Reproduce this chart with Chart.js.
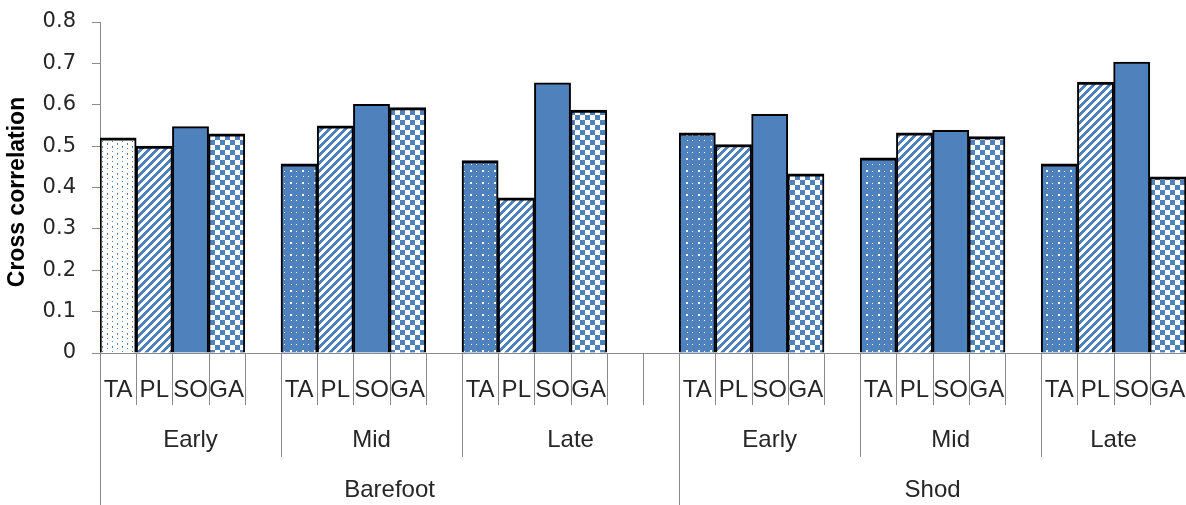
<!DOCTYPE html>
<html>
<head>
<meta charset="utf-8">
<script src="https://cdn.jsdelivr.net/npm/chart.js@4.4.1/dist/chart.umd.min.js"></script>
<style>
  html, body { margin: 0; padding: 0; background: #ffffff; }
  #wrap { width: 1186px; height: 505px; position: relative; }
</style>
</head>
<body>
<div id="wrap"><canvas id="chart" width="1186" height="505"></canvas></div>
<script>
// Muscles, phases and footwear conditions
const muscles = ['TA', 'PL', 'SO', 'GA'];
const phases = ['Early', 'Mid', 'Late'];
const conditions = ['Barefoot', 'Shod'];

// Cross-correlation per muscle, phase by phase (Early, Mid, Late)
const barefootEarly = [0.520, 0.500, 0.547, 0.530];
const barefootMid   = [0.457, 0.549, 0.601, 0.593];
const barefootLate  = [0.465, 0.375, 0.653, 0.587];
const shodEarly     = [0.532, 0.504, 0.577, 0.433];
const shodMid       = [0.472, 0.532, 0.538, 0.523];
const shodLate      = [0.457, 0.655, 0.703, 0.426];

// Empty category slots that follow each phase block
const barefootSpacers = [1, 1, 2];
const shodSpacers = [1, 1, 0];

// Y axis range and tick step
const yMin = 0, yMax = 0.8, yStep = 0.1;

const seriesByCondition = {
  Barefoot: [barefootEarly, barefootMid, barefootLate],
  Shod: [shodEarly, shodMid, shodLate]
};
const spacersByCondition = { Barefoot: barefootSpacers, Shod: shodSpacers };

// Flatten into category slots
const slots = [];
conditions.forEach(cond => {
  phases.forEach((ph, pi) => {
    muscles.forEach((m, mi) => {
      slots.push({ muscle: m, phase: ph, condition: cond, value: seriesByCondition[cond][pi][mi] });
    });
    for (let s = 0; s < spacersByCondition[cond][pi]; s++) {
      slots.push({ muscle: '', phase: ph, condition: cond, value: null });
    }
  });
});

const BLUE = '#4f81bd';

function makePattern(w, h, paint) {
  const c = document.createElement('canvas');
  c.width = w; c.height = h;
  const g = c.getContext('2d');
  paint(g, w, h);
  return g.createPattern(c, 'repeat');
}
const ctx = document.getElementById('chart').getContext('2d');

// light dotted fill: blue specks on white
const lightDots = makePattern(10, 10, (g, w, h) => {
  g.fillStyle = '#ffffff'; g.fillRect(0, 0, w, h);
  g.fillStyle = BLUE;
  g.fillRect(2, 1, 1, 1); g.fillRect(7, 3, 1, 2);
  g.fillRect(2, 6, 1, 2); g.fillRect(7, 8, 1, 1);
});
// dark dotted fill: white specks on blue
const darkDots = makePattern(12, 12, (g, w, h) => {
  g.fillStyle = BLUE; g.fillRect(0, 0, w, h);
  g.fillStyle = '#ffffff';
  g.fillRect(2, 2, 2, 2); g.fillRect(8, 8, 1, 1);
  g.fillRect(8, 3, 1, 1); g.fillRect(3, 8, 1, 1);
});
// wide upward diagonal stripes
const stripes = makePattern(8, 8, (g, w, h) => {
  g.fillStyle = '#ffffff'; g.fillRect(0, 0, w, h);
  g.fillStyle = BLUE;
  for (let y = 0; y < h; y++) for (let x = 0; x < w; x++) {
    if ((x + y) % 8 < 4) g.fillRect(x, y, 1, 1);
  }
});
// small checkerboard
const checker = makePattern(10, 10, (g, w, h) => {
  g.fillStyle = '#ffffff'; g.fillRect(0, 0, w, h);
  g.fillStyle = BLUE;
  g.fillRect(0, 0, 5, 5); g.fillRect(5, 5, 5, 5);
});

function fillFor(slot) {
  if (slot.muscle === 'TA') return (slot.condition === 'Barefoot' && slot.phase === 'Early') ? lightDots : darkDots;
  if (slot.muscle === 'PL') return stripes;
  if (slot.muscle === 'SO') return BLUE;
  return checker;
}
function borderFor(slot) {
  const top = slot.muscle === 'SO' ? 2 : 3;
  return { top: top, left: 2, right: 2, bottom: 0 };
}

const AXIS_GRAY = '#8a8a8a';
const TEXT = '#262626';
const AXIS_TOP = 22;
const AXIS_BOTTOM = 353;

// Three-level category axis and rotated value-axis title
const multiLevelAxis = {
  id: 'multiLevelAxis',
  afterDraw(chart) {
    const g = chart.ctx;
    const xs = chart.scales.x;
    const area = chart.chartArea;
    const n = slots.length;
    const w = (area.right - area.left) / n;
    const bx = k => Math.round(area.left + k * w) + 0.5;
    const H = chart.height;

    g.save();
    g.strokeStyle = AXIS_GRAY;
    g.lineWidth = 1;
    const vline = (x, y1, y2) => { g.beginPath(); g.moveTo(x, y1); g.lineTo(x, y2); g.stroke(); };

    // row 1: a cell for every slot
    for (let k = 0; k <= n; k++) vline(bx(k), AXIS_BOTTOM, 405);

    // spans for rows 2 and 3
    const phaseSpans = [], condSpans = [];
    slots.forEach((s, i) => {
      const pk = s.condition + '|' + s.phase;
      const lastP = phaseSpans[phaseSpans.length - 1];
      if (lastP && lastP.key === pk) lastP.end = i + 1; else phaseSpans.push({ key: pk, label: s.phase, start: i, end: i + 1 });
      const lastC = condSpans[condSpans.length - 1];
      if (lastC && lastC.key === s.condition) lastC.end = i + 1; else condSpans.push({ key: s.condition, label: s.condition, start: i, end: i + 1 });
    });
    phaseSpans.forEach(sp => { vline(bx(sp.start), AXIS_BOTTOM, 457); vline(bx(sp.end), AXIS_BOTTOM, 457); });
    condSpans.forEach(sp => { vline(bx(sp.start), AXIS_BOTTOM, H); vline(bx(sp.end), AXIS_BOTTOM, H); });

    g.fillStyle = TEXT;
    g.textAlign = 'center';
    g.textBaseline = 'middle';
    g.font = '24px "Liberation Sans", Arial, sans-serif';
    slots.forEach((s, i) => {
      if (s.muscle) g.fillText(s.muscle, xs.getPixelForValue(i), 390);
    });
    phaseSpans.forEach(sp => g.fillText(sp.label, area.left + (sp.start + sp.end) / 2 * w, 440));
    condSpans.forEach(sp => g.fillText(sp.label, area.left + (sp.start + sp.end) / 2 * w, 490));

    // value axis title
    g.translate(18, 192);
    g.rotate(-Math.PI / 2);
    g.font = 'bold 23px "Liberation Sans", Arial, sans-serif';
    g.fillStyle = '#000000';
    g.fillText('Cross correlation', 0, 0);
    g.restore();
  }
};

new Chart(ctx, {
  type: 'bar',
  data: {
    labels: slots.map(s => s.muscle),
    datasets: [{
      data: slots.map(s => s.value),
      backgroundColor: slots.map(fillFor),
      borderColor: '#000000',
      borderWidth: slots.map(borderFor),
      borderSkipped: false,
      categoryPercentage: 1.0,
      barPercentage: 1.0
    }]
  },
  options: {
    responsive: false,
    animation: false,
    devicePixelRatio: 1,
    layout: { padding: { top: AXIS_TOP, right: 0, bottom: 0, left: 0 } },
    plugins: { legend: { display: false }, tooltip: { enabled: false } },
    scales: {
      x: {
        type: 'category',
        offset: true,
        grid: { display: false },
        ticks: { display: false },
        border: { display: true, color: AXIS_GRAY, width: 1 },
        afterFit(scale) { scale.height = 505 - AXIS_BOTTOM; scale.paddingLeft = 0; scale.paddingRight = 0; }
      },
      y: {
        min: yMin,
        max: yMax,
        ticks: {
          stepSize: yStep,
          padding: 16,
          color: TEXT,
          font: { family: '"DejaVu Sans", sans-serif', size: 21 }
        },
        grid: { drawOnChartArea: false, drawTicks: true, tickLength: 8, color: AXIS_GRAY },
        border: { display: true, color: AXIS_GRAY, width: 1 },
        afterFit(scale) { scale.width = 100; scale.paddingTop = 0; scale.paddingBottom = 0; }
      }
    }
  },
  plugins: [multiLevelAxis]
});
</script>
</body>
</html>
